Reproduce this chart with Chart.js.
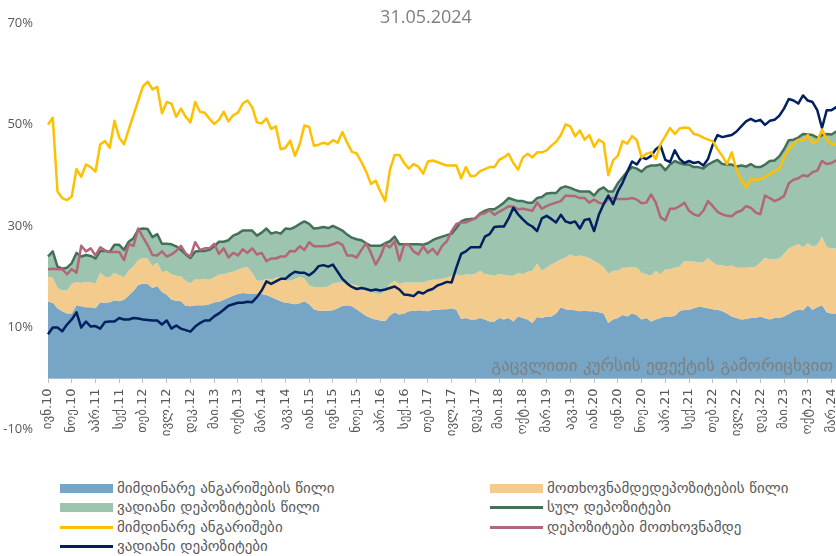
<!DOCTYPE html>
<html>
<head>
<meta charset="utf-8">
<script src="https://cdn.jsdelivr.net/npm/chart.js@4.4.1/dist/chart.umd.min.js"></script>
<style>
  html, body { margin: 0; padding: 0; background: #fff; }
  body { width: 836px; height: 556px; overflow: hidden; position: relative; }
  #wrap { position: absolute; left: 0; top: 0; width: 841px; height: 452px; }
  .item { position: absolute; display: flex; align-items: center; height: 20px;
          font-family: 'DejaVu Sans', sans-serif; font-size: 15px;
          color: #595959; white-space: nowrap; }
  .mark { width: 53px; margin-right: 4px; }
</style>
</head>
<body>
<div id="wrap"><canvas id="chart" width="841" height="452"></canvas></div>
<div id="legend"></div>
<script>
// თვეები (ივნ.2010 - მაი.2024)
const monthNames = ['იან', 'თებ', 'მარ', 'აპრ', 'მაი', 'ივნ', 'ივლ', 'აგვ', 'სექ', 'ოქტ', 'ნოე', 'დეკ'];
const firstYear = 2010, firstMonth = 5, monthCount = 168;

const titleText = '31.05.2024';
const noteText = 'გაცვლითი კურსის ეფექტის გამორიცხვით';

// ზედა საზღვარი: მიმდინარე ანგარიშების წილი (ლურჯი ფართობი)
const shareCurrentTop = [
  15.1, 14.9, 13.8, 13.2, 12.8, 12.8, 14.4, 14.2, 14.0, 14.0,
  13.8, 15.0, 14.9, 15.0, 15.4, 15.2, 15.5, 16.3, 17.2, 18.4,
  18.7, 18.6, 17.8, 18.2, 17.0, 16.5, 15.5, 15.3, 15.2, 14.3,
  14.2, 14.4, 14.4, 14.4, 14.6, 15.0, 15.1, 15.5, 15.9, 16.3,
  16.6, 16.8, 16.7, 16.6, 16.6, 16.6, 16.4, 16.0, 15.6, 15.2,
  14.9, 14.8, 14.6, 14.8, 15.2, 14.6, 13.6, 13.3, 13.3, 13.3,
  13.4, 13.8, 14.3, 14.4, 14.2, 13.6, 12.9, 12.3, 11.9, 11.6,
  11.4, 11.3, 12.4, 13.0, 12.6, 12.8, 13.2, 13.3, 13.4, 13.3,
  13.2, 13.5, 13.5, 13.6, 13.6, 13.8, 13.5, 11.7, 11.9, 11.6,
  11.6, 11.9, 11.6, 11.2, 11.2, 11.9, 11.6, 11.9, 11.2, 12.2,
  11.9, 11.6, 10.9, 12.1, 11.9, 12.2, 12.2, 12.8, 14.0, 13.6,
  13.5, 13.4, 13.2, 13.3, 13.2, 13.2, 13.0, 12.8, 10.9, 11.6,
  11.9, 12.5, 12.2, 12.8, 12.5, 11.6, 11.9, 11.2, 11.6, 11.9,
  12.2, 12.2, 12.3, 13.2, 13.5, 13.5, 13.8, 14.1, 14.0, 13.8,
  13.6, 13.5, 13.2, 12.8, 12.2, 11.9, 11.6, 11.7, 11.9, 11.9,
  12.2, 11.9, 11.6, 11.9, 11.9, 12.2, 12.7, 13.2, 13.5, 13.4,
  14.4, 13.5, 14.0, 14.4, 13.0, 12.8, 12.8, 12.8
];

// ზედა საზღვარი: + მოთხოვნამდე დეპოზიტების წილი (ყვითელი ფართობი)
const shareDemandTop = [
  20.0, 19.8, 17.8, 17.3, 17.3, 18.6, 19.0, 18.8, 19.0, 19.0,
  18.6, 20.8, 20.0, 19.9, 20.8, 20.3, 19.9, 21.2, 22.1, 23.3,
  23.7, 23.6, 22.1, 22.8, 20.9, 21.2, 20.5, 20.2, 20.1, 19.2,
  18.7, 19.5, 19.4, 19.5, 19.4, 19.9, 20.4, 20.5, 20.8, 21.0,
  21.4, 21.8, 21.9, 20.8, 19.2, 19.2, 19.6, 19.4, 19.8, 19.9,
  19.2, 19.2, 19.5, 20.0, 19.6, 18.3, 18.0, 18.0, 18.0, 18.1,
  18.7, 18.9, 18.9, 18.7, 18.6, 18.3, 18.0, 17.3, 17.0, 16.7,
  16.6, 17.4, 18.6, 19.2, 18.6, 18.9, 18.9, 18.9, 18.9, 18.9,
  19.2, 19.4, 19.4, 19.6, 19.8, 20.2, 20.5, 20.2, 20.5, 20.4,
  20.6, 21.2, 20.5, 20.4, 20.2, 20.5, 20.4, 20.2, 20.2, 20.8,
  20.5, 21.0, 21.2, 22.6, 21.2, 21.8, 22.4, 22.9, 23.4, 23.8,
  24.4, 24.0, 24.2, 24.0, 23.7, 23.1, 22.6, 21.9, 20.6, 21.2,
  21.2, 21.8, 21.8, 21.9, 21.8, 20.8, 20.5, 20.2, 21.2, 20.5,
  21.5, 21.5, 21.8, 22.0, 23.1, 23.0, 23.0, 22.8, 22.8, 23.7,
  22.8, 22.3, 22.2, 22.1, 22.2, 21.8, 21.8, 21.8, 21.9, 22.0,
  22.8, 23.7, 23.5, 23.5, 23.6, 24.5, 25.6, 26.0, 26.4, 25.8,
  26.6, 26.0, 26.2, 27.9, 25.8, 25.6, 25.5, 25.5
];

// სულ დეპოზიტები (ასევე მწვანე ფართობის ზედა საზღვარი)
const totalDeposits = [
  24.0, 25.0, 22.0, 21.6, 21.8, 22.7, 24.7, 24.0, 24.3, 24.1,
  23.6, 25.1, 25.1, 24.9, 26.3, 26.3, 25.3, 26.9, 27.6, 29.3,
  29.5, 29.4, 27.8, 28.4, 26.5, 26.5, 26.4, 26.0, 25.3, 24.4,
  23.7, 25.0, 25.1, 25.1, 25.3, 26.0, 26.9, 26.9, 27.2, 28.1,
  28.5, 29.1, 29.1, 29.1, 28.1, 28.7, 29.5, 28.5, 28.8, 28.5,
  29.5, 29.4, 29.8, 30.4, 30.9, 30.4, 29.5, 29.6, 29.8, 29.6,
  30.0, 29.6, 29.1, 28.3, 27.7, 27.4, 27.2, 26.6, 26.1, 26.1,
  26.1, 26.6, 27.0, 27.9, 26.4, 26.4, 26.4, 26.4, 26.4, 26.3,
  26.6, 27.2, 27.6, 27.9, 28.2, 28.5, 29.6, 30.9, 31.3, 31.4,
  31.5, 32.5, 33.0, 33.3, 33.3, 33.9, 34.6, 35.5, 35.2, 34.9,
  34.9, 34.6, 34.6, 35.5, 35.7, 36.4, 36.5, 36.5, 37.5, 37.8,
  37.5, 37.1, 36.8, 36.8, 36.8, 36.0, 37.1, 37.6, 36.8, 36.8,
  38.4, 39.6, 40.7, 41.6, 41.3, 40.7, 41.6, 41.9, 41.9, 42.1,
  41.0, 42.1, 42.8, 42.4, 42.1, 42.1, 41.6, 41.6, 41.3, 42.1,
  42.6, 43.0, 42.2, 42.1, 42.1, 41.7, 41.9, 41.7, 42.2, 41.6,
  41.6, 42.1, 42.8, 42.9, 43.7, 45.1, 46.9, 47.0, 47.4, 48.1,
  48.0, 47.9, 47.4, 47.9, 48.1, 48.0, 48.6, 48.8
];

// მიმდინარე ანგარიშები
const currentAccounts = [
  50.0, 51.3, 36.8, 35.5, 35.1, 35.8, 41.2, 39.7, 42.1, 41.6,
  40.7, 46.1, 46.7, 45.4, 50.7, 47.4, 46.1, 49.0, 51.8, 54.7,
  57.5, 58.4, 56.9, 57.4, 52.2, 54.4, 54.1, 51.5, 53.1, 51.5,
  50.4, 54.4, 52.5, 52.3, 51.1, 50.1, 50.9, 52.5, 50.6, 51.8,
  52.3, 54.1, 54.7, 53.4, 50.4, 50.2, 51.2, 49.1, 49.6, 45.1,
  45.4, 46.8, 43.8, 46.1, 49.8, 49.5, 45.8, 46.0, 46.4, 46.1,
  46.9, 46.4, 48.5, 46.4, 44.6, 44.3, 42.6, 40.7, 38.3, 38.9,
  36.8, 34.9, 41.0, 44.0, 44.0, 42.4, 41.3, 42.2, 41.7, 40.3,
  42.7, 42.9, 42.6, 42.2, 41.9, 41.9, 41.9, 39.4, 41.6, 39.8,
  39.9, 40.8, 41.2, 41.6, 41.6, 43.0, 43.5, 44.2, 42.4, 41.1,
  43.5, 44.2, 43.5, 44.5, 44.5, 44.9, 45.8, 46.6, 47.9, 50.0,
  49.6, 47.7, 48.8, 47.0, 47.9, 45.6, 47.0, 46.4, 40.0, 42.9,
  43.8, 46.7, 46.2, 47.7, 46.9, 43.5, 44.2, 44.5, 43.2, 46.1,
  47.7, 49.3, 48.1, 49.2, 49.4, 49.3, 48.1, 47.9, 47.4, 47.0,
  46.7, 45.1, 43.8, 42.2, 44.5, 41.0, 39.1, 37.6, 39.2, 39.1,
  39.2, 39.7, 40.2, 40.8, 41.2, 43.5, 45.1, 46.2, 47.0, 46.8,
  47.9, 46.4, 46.7, 49.0, 47.0, 46.1, 46.2, 46.0
];

// დეპოზიტები მოთხოვნამდე
const demandDeposits = [
  21.5, 21.6, 21.5, 21.5, 20.5, 21.5, 20.8, 26.1, 25.0, 25.6,
  24.2, 25.8, 25.2, 24.9, 24.9, 24.9, 23.3, 26.4, 26.1, 29.5,
  27.8, 26.2, 24.3, 24.2, 25.0, 24.0, 24.4, 25.1, 26.1, 24.6,
  24.0, 26.8, 25.3, 25.6, 25.6, 26.5, 24.5, 25.6, 23.8, 24.7,
  24.2, 25.4, 24.7, 25.6, 24.4, 24.7, 23.1, 23.6, 23.6, 24.0,
  24.0, 25.1, 25.0, 26.0, 25.3, 26.8, 26.0, 26.0, 26.0, 26.1,
  26.4, 26.8, 26.3, 24.2, 24.2, 23.8, 25.3, 26.6, 24.7, 22.4,
  24.0, 26.4, 25.8, 27.0, 23.2, 26.3, 26.3, 25.0, 24.4, 26.0,
  24.7, 25.5, 24.4, 26.1, 27.0, 29.0, 30.4, 30.7, 30.7, 31.1,
  31.5, 32.3, 32.5, 33.1, 32.2, 32.8, 33.3, 33.9, 33.8, 33.3,
  33.4, 33.2, 33.0, 34.6, 33.4, 33.9, 34.3, 34.6, 34.9, 36.0,
  35.9, 35.9, 35.5, 35.5, 34.6, 35.2, 34.6, 34.3, 35.3, 35.5,
  35.3, 35.3, 35.3, 35.5, 35.2, 34.5, 34.6, 36.2, 34.6, 31.7,
  31.1, 33.4, 33.4, 33.9, 34.6, 33.0, 32.3, 32.0, 33.0, 34.9,
  33.9, 32.8, 32.3, 32.0, 31.9, 32.7, 33.0, 33.9, 33.6, 32.7,
  32.3, 36.0, 35.5, 34.9, 35.3, 35.9, 38.4, 39.1, 39.4, 40.0,
  39.8, 40.6, 40.9, 42.8, 42.2, 42.4, 42.9, 43.0
];

// ვადიანი დეპოზიტები
const timeDeposits = [
  8.7, 10.0, 10.0, 9.3, 10.6, 11.6, 13.0, 10.0, 11.2, 10.2,
  10.3, 9.8, 11.1, 11.2, 11.2, 11.9, 11.6, 11.6, 11.9, 11.8,
  11.6, 11.5, 11.4, 11.4, 10.6, 11.4, 9.8, 10.4, 9.8, 9.5,
  9.2, 10.2, 10.9, 11.4, 11.4, 12.2, 12.8, 13.5, 14.3, 14.6,
  14.9, 14.9, 15.1, 15.0, 16.0, 17.3, 19.1, 18.6, 19.1, 19.6,
  19.6, 20.4, 21.0, 20.8, 20.8, 20.3, 21.0, 22.1, 22.3, 22.0,
  22.4, 21.0, 19.6, 18.7, 18.0, 17.6, 17.8, 17.6, 17.3, 17.5,
  17.3, 17.5, 17.8, 18.1, 17.5, 16.5, 16.4, 16.2, 17.0, 16.7,
  17.3, 17.6, 18.3, 18.6, 19.0, 18.9, 21.8, 24.5, 25.0, 25.8,
  25.8, 25.8, 27.9, 28.4, 29.8, 29.9, 29.9, 31.5, 33.6, 32.3,
  31.3, 30.4, 29.9, 29.0, 31.5, 32.0, 31.4, 30.7, 32.2, 30.9,
  30.6, 30.9, 29.5, 31.2, 31.4, 29.0, 32.2, 34.3, 36.0, 34.3,
  36.8, 38.5, 40.7, 42.7, 42.1, 43.5, 43.2, 43.8, 45.1, 45.8,
  43.0, 42.6, 44.9, 43.2, 42.4, 42.8, 42.4, 42.6, 41.9, 43.2,
  46.0, 47.9, 47.5, 47.7, 47.9, 48.6, 49.6, 50.6, 51.1, 50.6,
  50.9, 49.9, 50.7, 50.9, 51.7, 53.1, 55.0, 54.7, 54.1, 55.7,
  54.7, 54.4, 52.8, 49.3, 52.8, 52.8, 53.4, 54.3
];

// კატეგორიები: "ივნ.10" ...
const labels = [];
for (let i = 0; i < monthCount; i++) {
  const m = (firstMonth + i) % 12;
  const y = firstYear + Math.floor((firstMonth + i) / 12);
  labels.push(monthNames[m] + '.' + String(y).slice(2));
}

const geoFont = "'DejaVu Sans', sans-serif";
const latFont = "'Open Sans', 'Liberation Sans', sans-serif";

const datasets = [
  { label: 'მიმდინარე ანგარიშების წილი', data: shareCurrentTop, fill: 'origin',
    backgroundColor: '#76A5C5', borderColor: '#76A5C5', borderWidth: 0, order: 9, legend: 'box' },
  { label: 'მოთხოვნამდედეპოზიტების წილი', data: shareDemandTop, fill: '-1',
    backgroundColor: '#F2CB8D', borderColor: '#F2CB8D', borderWidth: 0, order: 8, legend: 'box' },
  { label: 'ვადიანი დეპოზიტების წილი', data: totalDeposits, fill: '-1',
    backgroundColor: '#9DC4AF', borderColor: '#9DC4AF', borderWidth: 0, order: 7, legend: 'box' },
  { label: 'სულ დეპოზიტები', data: totalDeposits, fill: false,
    borderColor: '#44705A', borderWidth: 2.5, order: 4, legend: 'line' },
  { label: 'დეპოზიტები მოთხოვნამდე', data: demandDeposits, fill: false,
    borderColor: '#B26679', borderWidth: 2.5, order: 3, legend: 'line' },
  { label: 'ვადიანი დეპოზიტები', data: timeDeposits, fill: false,
    borderColor: '#002060', borderWidth: 2.5, order: 2, legend: 'line' },
  { label: 'მიმდინარე ანგარიშები', data: currentAccounts, fill: false,
    borderColor: '#FFC000', borderWidth: 2.5, order: 1, legend: 'line' }
];

// ტექსტები: სათაური და შენიშვნა
const textPlugin = {
  id: 'texts',
  afterDatasetsDraw(c) {
    const ctx = c.ctx;
    ctx.save();
    ctx.fillStyle = '#7f7f7f';
    ctx.textBaseline = 'middle';
    ctx.font = '17px ' + geoFont;
    ctx.textAlign = 'right';
    ctx.fillText(noteText, 833, 367);
    ctx.font = '18px ' + latFont;
    ctx.textAlign = 'center';
    ctx.fillText(titleText, 426, 18);
    ctx.restore();
  }
};

const chart = new Chart(document.getElementById('chart'), {
  type: 'line',
  data: { labels: labels, datasets: datasets },
  options: {
    responsive: false,
    animation: false,
    devicePixelRatio: 1,
    layout: { padding: { top: 22, right: 0, bottom: 12, left: 0 } },
    elements: {
      point: { radius: 0, hoverRadius: 0 },
      line: { tension: 0, borderJoinStyle: 'round' }
    },
    plugins: { legend: { display: false }, tooltip: { enabled: false } },
    scales: {
      x: {
        type: 'category',
        position: { y: 0 },
        grid: {
          drawOnChartArea: false, drawTicks: true, tickLength: 4,
          tickColor: (c) => (c.index % 5 === 0 ? '#bfbfbf' : 'rgba(0,0,0,0)')
        },
        border: { color: '#d9d9d9', width: 1 },
        ticks: {
          autoSkip: false, minRotation: 90, maxRotation: 90, padding: 6,
          color: '#595959', font: { family: geoFont, size: 13 },
          callback: function (v, i) { return i % 5 === 0 ? this.getLabelForValue(v) : ''; }
        },
        afterFit: (s) => { s.paddingLeft = 0; s.paddingRight = 0; }
      },
      y: {
        min: -10, max: 70,
        grid: { display: false, drawTicks: false },
        border: { display: false },
        ticks: {
          stepSize: 20, padding: 15, color: '#595959',
          font: { family: latFont, size: 13 },
          callback: (v) => v + '%'
        },
        afterFit: (s) => { s.width = 48; }
      }
    }
  },
  plugins: [textPlugin]
});

// ლეგენდა (ორი სვეტი)
const legendSlots = [
  { ds: 0, x: 60, y: 478 }, { ds: 1, x: 490, y: 478 },
  { ds: 2, x: 60, y: 497 }, { ds: 3, x: 490, y: 497 },
  { ds: 6, x: 60, y: 517 }, { ds: 4, x: 490, y: 517 },
  { ds: 5, x: 60, y: 536 }
];
const legendBox = document.getElementById('legend');
legendSlots.forEach((s) => {
  const d = datasets[s.ds];
  const item = document.createElement('div');
  item.className = 'item';
  item.style.left = s.x + 'px';
  item.style.top = s.y + 'px';
  const mark = document.createElement('span');
  mark.className = 'mark';
  if (d.legend === 'box') {
    mark.style.height = '9px';
    mark.style.background = d.backgroundColor;
  } else {
    mark.style.height = '3px';
    mark.style.background = d.borderColor;
  }
  const txt = document.createElement('span');
  txt.textContent = d.label;
  item.appendChild(mark);
  item.appendChild(txt);
  legendBox.appendChild(item);
});
</script>
</body>
</html>
